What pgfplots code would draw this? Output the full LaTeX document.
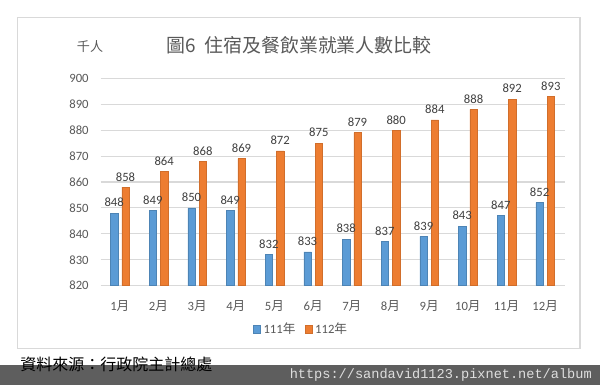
\documentclass[border=0pt]{standalone}
\usepackage{fontspec}
\setmainfont{Carlito}
\newfontfamily\cjk{Noto Sans CJK TC}
\newfontfamily\mono{Liberation Mono}
\usepackage{pgfplots}
\pgfplotsset{compat=1.18}
\definecolor{cblue}{HTML}{5B9BD5}
\definecolor{corange}{HTML}{ED7D31}
\definecolor{gridc}{HTML}{D9D9D9}
\definecolor{txt}{HTML}{595959}
\definecolor{lbl}{HTML}{404040}
\definecolor{darkbar}{HTML}{5E5E5E}
\pgfplotstableread{
m a b
1 848 858
2 849 864
3 850 868
4 849 869
5 832 872
6 833 875
7 838 879
8 837 880
9 839 884
10 843 888
11 847 892
12 852 893
}\datatab
\begin{document}
\begin{tikzpicture}
\useasboundingbox (0,0) rectangle (450pt,288.75pt);
\fill[white] (0,0) rectangle (450pt,288.75pt);
\draw[gridc, line width=0.8pt] (13.1pt,27.4pt) rectangle (435pt,275.6pt);
\fill[darkbar] (0,0) rectangle (450pt,15pt);
\node[anchor=east, font=\mono\fontsize{10.2}{12}\selectfont, text=white!87!black, inner sep=0pt] at (444pt,7.5pt) {https://sandavid1123.pixnet.net/album};
\node[anchor=west, font=\cjk\fontsize{12}{14}\selectfont, text=black, inner sep=0pt] at (15pt,15.8pt) {資料來源：行政院主計總處};
\node[font=\cjk\fontsize{14.2}{16}\selectfont, text=txt, inner sep=0pt] at (224.3pt,254.6pt) {圖6\ \ 住宿及餐飲業就業人數比較};
\node[font=\cjk\fontsize{9.8}{12}\selectfont, text=txt, inner sep=0pt] at (67.5pt,253.5pt) {千人};
\begin{axis}[
  at={(75.4pt,74.5pt)}, anchor=south west,
  scale only axis, width=348pt, height=159.4pt,
  xmin=0.5, xmax=12.5, ymin=820, ymax=902,
  enlargelimits=false,
  ytick={820,830,...,900},
  xtick={1,...,12},
  xticklabels={{1\cjk 月},{2\cjk 月},{3\cjk 月},{4\cjk 月},{5\cjk 月},{6\cjk 月},{7\cjk 月},{8\cjk 月},{9\cjk 月},{10\cjk 月},{11\cjk 月},{12\cjk 月}},
  ymajorgrids, grid style={gridc, line width=0.8pt},
  axis line style={draw=none}, tick style={draw=none},
  /pgf/number format/assume math mode=true,
  ticklabel style={font=\fontsize{9.5}{11}\selectfont, text=txt},
  yticklabel style={xshift=-5.4pt},
  xticklabel style={yshift=-3.5pt},
  ybar, bar width=5.6pt,
  clip mode=individual,
  every node near coord/.append style={font=\fontsize{9.5}{11}\selectfont, text=lbl, yshift=1pt},
  legend style={at={(0.433,-0.205)}, anchor=center, draw=none, fill=none,
    legend columns=2, font=\fontsize{9.5}{11}\selectfont, text=txt,
    /tikz/every even column/.append style={column sep=5pt}},
  legend image code/.code={\fill[#1] (0pt,-2.7pt) rectangle (5.4pt,2.7pt);},
]
\addplot[fill=cblue, draw=cblue!85!black, line width=0.4pt, bar shift=-4.25pt] table[x=m, y=a] {\datatab};
\addplot[fill=corange, draw=corange!88!black, line width=0.4pt, bar shift=4.25pt] table[x=m, y=b] {\datatab};
\legend{{111\cjk 年},{112\cjk 年}}
\addplot[draw=none, fill=none, bar shift=-4.25pt, nodes near coords, forget plot] table[x=m, y=a] {\datatab};
\addplot[draw=none, fill=none, bar shift=4.25pt, nodes near coords, forget plot] table[x=m, y=b] {\datatab};
\end{axis}
\end{tikzpicture}
\end{document}
